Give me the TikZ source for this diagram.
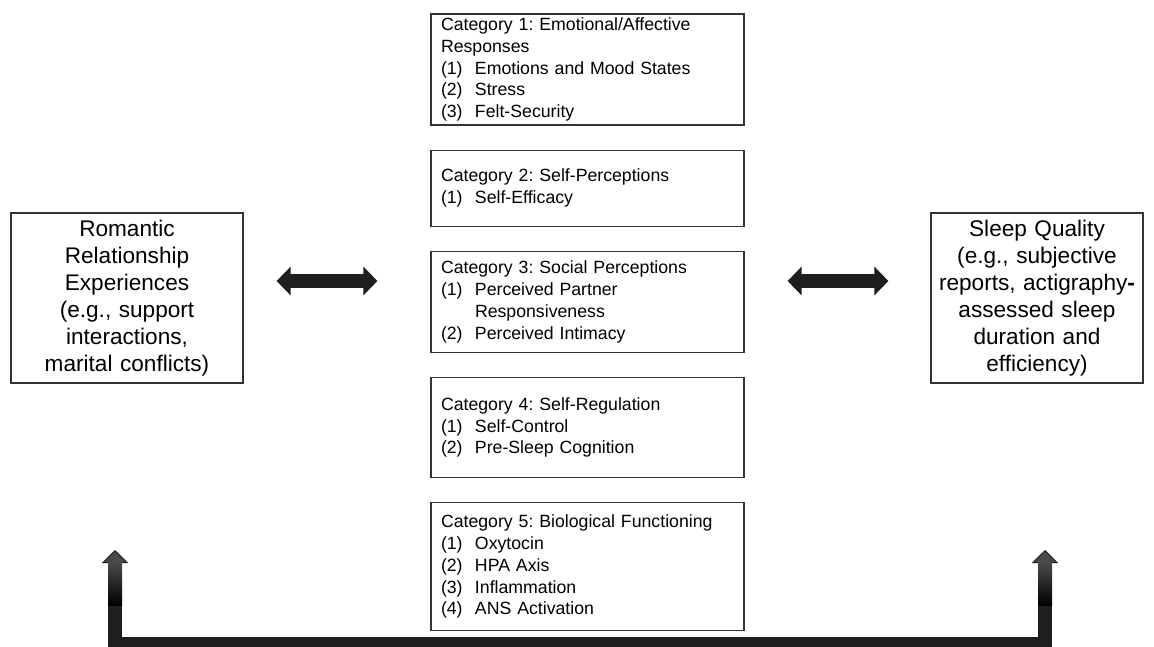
\documentclass[tikz,border=0pt]{standalone}
\usepackage{fontspec}
\setmainfont{Liberation Sans}
\usepackage{tikz}
\usetikzlibrary{positioning, arrows.meta}

\definecolor{boxline}{HTML}{333333}
\definecolor{arrowdark}{HTML}{1E1E1E}
\definecolor{headgray}{HTML}{4A4A4A}

\newcommand{\itm}[2]{\makebox[34pt][l]{#1}#2}
\frenchspacing

\begin{document}
\begin{tikzpicture}
[x=1pt, y=-1pt,
cat/.style={rectangle, draw=boxline, line width=1.2pt, text width=293pt, inner xsep=10pt, inner ysep=2pt, align=left, font=\fontsize{17.7}{21.7}\selectfont},
side/.style={rectangle, draw=boxline, line width=1.2pt, inner xsep=6pt, align=center, font=\fontsize{22.6}{27}\selectfont},
dblarrow/.style={line width=14pt, draw=arrowdark, {Triangle[length=14pt, width=28pt]}-{Triangle[length=14pt, width=28pt]}},
feedback/.style={line width=14pt, draw=arrowdark, line join=miter, {Triangle[length=13pt, width=26pt, line width=1pt, fill=headgray]}-{Triangle[length=13pt, width=26pt, line width=1pt, fill=headgray]}}]

\useasboundingbox (0,0) rectangle (1154,646);

% mediating categories
\node[cat, minimum height=111pt] (cat1) at (587.5,69.5) {Category 1: Emotional/Affective\\Responses\\\itm{(1)}{Emotions and Mood States}\\\itm{(2)}{Stress}\\\itm{(3)}{Felt-Security}};
\node[cat, minimum height=76pt, below=24pt of cat1] (cat2) {Category 2: Self-Perceptions\\\itm{(1)}{Self-Efficacy}};
\node[cat, minimum height=101pt, below=24pt of cat2] (cat3) {Category 3: Social Perceptions\\\itm{(1)}{Perceived Partner}\\\hspace*{34pt}Responsiveness\\\itm{(2)}{Perceived Intimacy}};
\node[cat, minimum height=100pt, below=24pt of cat3] (cat4) {Category 4: Self-Regulation\\\itm{(1)}{Self-Control}\\\itm{(2)}{Pre-Sleep Cognition}};
\node[cat, minimum height=128pt, below=24pt of cat4] (cat5) {Category 5: Biological Functioning\\\itm{(1)}{Oxytocin}\\\itm{(2)}{HPA Axis}\\\itm{(3)}{Inflammation}\\\itm{(4)}{ANS Activation}};

% outer boxes
\node[side, text width=220pt, minimum height=170pt] (romantic) at (127,298) {Romantic\\Relationship\\Experiences\\(e.g., support\\interactions,\\marital conflicts)};
\node[side, text width=200pt, minimum height=170pt] (sleep) at (1037,298) {Sleep Quality\\(e.g., subjective\\reports, actigraphy\textbf{-}\\assessed sleep\\duration and\\efficiency)};

% double arrows
\coordinate (la) at ([yshift=17pt]romantic.east);
\coordinate (ra) at ([yshift=17pt]sleep.west);
\draw[dblarrow, shorten <=33pt, shorten >=53pt] (la) -- (la -| cat3.west);
\draw[dblarrow, shorten <=43pt, shorten >=42pt] (ra -| cat3.east) -- (ra);

% bottom link
\coordinate (lfb) at (115,550);
\coordinate (rfb) at (1045,550);
\coordinate (base) at (0,644);
\draw[feedback] (lfb) -- (lfb |- base) -- (rfb |- base) -- (rfb);
\shade[top color=headgray, bottom color=black] ([xshift=-7pt,yshift=-12.5pt]lfb) rectangle ([xshift=7pt,yshift=-55pt]lfb);
\shade[top color=headgray, bottom color=black] ([xshift=-7pt,yshift=-12.5pt]rfb) rectangle ([xshift=7pt,yshift=-55pt]rfb);
\end{tikzpicture}
\end{document}
